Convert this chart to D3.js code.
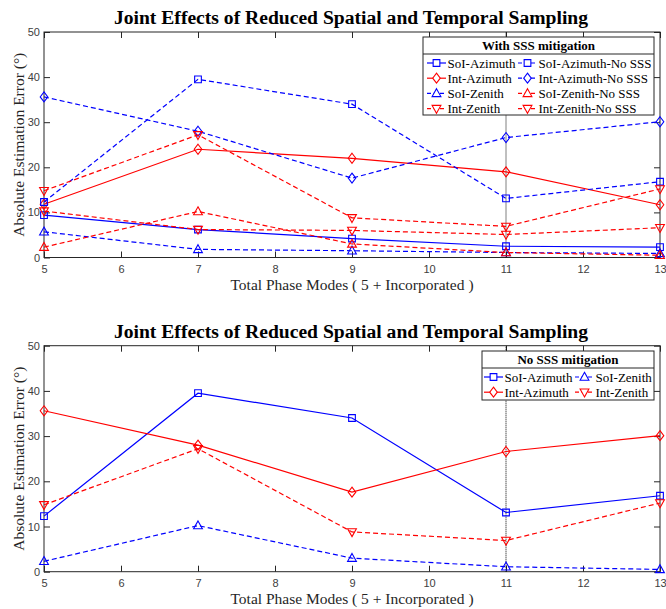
<!DOCTYPE html>
<html>
<head>
<meta charset="utf-8">
<script src="https://cdn.jsdelivr.net/npm/d3@7"></script>
<style>
  body { margin: 0; background: #fff; }
  .tick text { font-family: "Liberation Sans", Arial, sans-serif; font-size: 11px; fill: #404040; }
  .serif { font-family: "Liberation Serif", "Times New Roman", serif; }
</style>
</head>
<body>
<svg id="chart" width="666" height="609"></svg>
<script>
// x categories and tick labels
const phaseModes = [5, 7, 9, 11, 13];
const xTicks = [5, 6, 7, 8, 9, 10, 11, 12, 13];
const yTicks = [0, 10, 20, 30, 40, 50];

// with SSS mitigation
const soiAzimuth = [9.4, 6.2, 4.2, 2.5, 2.3];
const intAzimuth = [11.8, 24.0, 22.0, 19.0, 11.7];
const soiZenith = [5.7, 1.8, 1.5, 1.1, 0.9];
const intZenith = [10.3, 6.2, 6.0, 5.1, 6.6];

// no SSS mitigation
const soiAzimuthNoSSS = [12.3, 39.5, 34.0, 13.1, 16.8];
const intAzimuthNoSSS = [35.6, 28.0, 17.6, 26.6, 30.1];
const soiZenithNoSSS = [2.3, 10.2, 3.0, 1.1, 0.5];
const intZenithNoSSS = [14.8, 27.2, 8.8, 6.9, 15.2];

const BLUE = '#0000ff', RED = '#ff0000';
const DASH = '5,3';

const svg = d3.select('#chart');
svg.append('rect').attr('width', 666).attr('height', 609).attr('fill', '#fff');

const plotLeft = 44, plotRight = 660;
const x = d3.scaleLinear().domain([5, 13]).range([plotLeft, plotRight]);

function markerPath(type) {
    switch (type) {
        case 'square':
            return d3.symbol(d3.symbolSquare, 45)();
        case 'diamond':
            return 'M0,-5L3.8,0L0,5L-3.8,0Z';
        case 'up':
            return 'M0,-4.7L4.4,3.2L-4.4,3.2Z';
        case 'down':
            return 'M0,4.7L4.4,-3.2L-4.4,-3.2Z';
        default:
            return '';
    }
}

function drawPanel(cfg) {
    const y = d3.scaleLinear().domain([0, 50]).range([cfg.bottom, cfg.top]);
    const g = svg.append('g');

    //title
    svg.append('text').attr('class', 'serif')
        .attr('x', 351).attr('y', cfg.top - 8)
        .attr('text-anchor', 'middle')
        .attr('font-size', 19.6).attr('font-weight', 'bold').attr('fill', '#000')
        .text('Joint Effects of Reduced Spatial and Temporal Sampling');

    //axes with inward ticks
    g.append('g').attr('transform', `translate(0,${cfg.bottom})`)
        .call(d3.axisBottom(x).tickValues(xTicks).tickSize(-6).tickPadding(8).tickSizeOuter(0))
        .call(a => a.select('.domain').remove());
    g.append('g').attr('transform', `translate(${plotLeft},0)`)
        .call(d3.axisLeft(y).tickValues(yTicks).tickSize(-6).tickPadding(4).tickSizeOuter(0))
        .call(a => a.select('.domain').remove());
    g.append('g').attr('transform', `translate(0,${cfg.top})`)
        .call(d3.axisTop(x).tickValues(xTicks).tickSize(-6).tickFormat('').tickSizeOuter(0))
        .call(a => a.select('.domain').remove());
    g.append('g').attr('transform', `translate(${plotRight},0)`)
        .call(d3.axisRight(y).tickValues(yTicks).tickSize(-6).tickFormat('').tickSizeOuter(0))
        .call(a => a.select('.domain').remove());
    g.selectAll('.tick line').attr('stroke', '#262626');
    g.append('rect')
        .attr('x', plotLeft).attr('y', cfg.top)
        .attr('width', plotRight - plotLeft).attr('height', cfg.bottom - cfg.top)
        .attr('fill', 'none').attr('stroke', '#262626').attr('stroke-width', 1);

    //dotted marker line at 11 modes
    g.append('line')
        .attr('x1', x(11)).attr('x2', x(11))
        .attr('y1', y(0)).attr('y2', y(50))
        .attr('stroke', '#000').attr('stroke-width', 1).attr('stroke-dasharray', '1,1');

    //axis labels
    svg.append('text').attr('class', 'serif')
        .attr('x', 352).attr('y', cfg.bottom + 32)
        .attr('text-anchor', 'middle').attr('font-size', 15.5).attr('fill', '#262626')
        .text('Total Phase Modes ( 5 + Incorporated )');
    svg.append('text').attr('class', 'serif')
        .attr('transform', `translate(24,${(cfg.top + cfg.bottom) / 2}) rotate(-90)`)
        .attr('text-anchor', 'middle').attr('font-size', 15.5).attr('fill', '#262626')
        .text('Absolute Estimation Error (°)');

    //series
    const line = d3.line().x(d => x(d.x)).y(d => y(d.y));
    cfg.series.forEach(s => {
        const pts = phaseModes.map((m, i) => ({x: m, y: s.values[i]}));
        g.append('path')
            .attr('d', line(pts))
            .attr('fill', 'none')
            .attr('stroke', s.color)
            .attr('stroke-width', 1.2)
            .attr('stroke-dasharray', s.dashed ? DASH : null);
        g.selectAll(null).data(pts).enter().append('path')
            .attr('d', markerPath(s.marker))
            .attr('transform', d => `translate(${x(d.x)},${y(d.y)})`)
            .attr('fill', 'none')
            .attr('stroke', s.color)
            .attr('stroke-width', 1.1);
    });

    //legend
    const lg = cfg.legend;
    const leg = svg.append('g');
    leg.append('rect')
        .attr('x', lg.x).attr('y', lg.y).attr('width', lg.w).attr('height', lg.h)
        .attr('fill', '#fff').attr('stroke', '#262626').attr('stroke-width', 1);
    leg.append('line')
        .attr('x1', lg.x).attr('x2', lg.x + lg.w)
        .attr('y1', lg.y + 17).attr('y2', lg.y + 17)
        .attr('stroke', '#262626').attr('stroke-width', 1);
    leg.append('text').attr('class', 'serif')
        .attr('x', lg.x + lg.w / 2).attr('y', lg.y + 13)
        .attr('text-anchor', 'middle').attr('font-size', 13).attr('font-weight', 'bold').attr('fill', '#000')
        .text(lg.title);
    lg.columns.forEach((col, ci) => {
        col.forEach((s, ri) => {
            const lx = lg.x + lg.colX[ci];
            const ly = lg.y + 26 + ri * 15.2;
            leg.append('line')
                .attr('x1', lx).attr('x2', lx + 19)
                .attr('y1', ly).attr('y2', ly)
                .attr('stroke', s.color).attr('stroke-width', 1.2)
                .attr('stroke-dasharray', s.dashed ? '4,2.5' : null);
            leg.append('path')
                .attr('d', markerPath(s.marker))
                .attr('transform', `translate(${lx + 9.5},${ly})`)
                .attr('fill', '#fff').attr('stroke', s.color).attr('stroke-width', 1.1);
            leg.append('text').attr('class', 'serif')
                .attr('x', lx + 20.5).attr('y', ly + 4.5)
                .attr('font-size', 13).attr('fill', '#000')
                .text(s.name);
        });
    });
}

const topSeries = {
    soiAz: {name: 'SoI-Azimuth', values: soiAzimuth, color: BLUE, dashed: false, marker: 'square'},
    intAz: {name: 'Int-Azimuth', values: intAzimuth, color: RED, dashed: false, marker: 'diamond'},
    soiZen: {name: 'SoI-Zenith', values: soiZenith, color: BLUE, dashed: true, marker: 'up'},
    intZen: {name: 'Int-Zenith', values: intZenith, color: RED, dashed: true, marker: 'down'},
    soiAzNo: {name: 'SoI-Azimuth-No SSS', values: soiAzimuthNoSSS, color: BLUE, dashed: true, marker: 'square'},
    intAzNo: {name: 'Int-Azimuth-No SSS', values: intAzimuthNoSSS, color: BLUE, dashed: true, marker: 'diamond'},
    soiZenNo: {name: 'SoI-Zenith-No SSS', values: soiZenithNoSSS, color: RED, dashed: true, marker: 'up'},
    intZenNo: {name: 'Int-Zenith-No SSS', values: intZenithNoSSS, color: RED, dashed: true, marker: 'down'},
};

const bottomSeries = {
    soiAz: {name: 'SoI-Azimuth', values: soiAzimuthNoSSS, color: BLUE, dashed: false, marker: 'square'},
    intAz: {name: 'Int-Azimuth', values: intAzimuthNoSSS, color: RED, dashed: false, marker: 'diamond'},
    soiZen: {name: 'SoI-Zenith', values: soiZenithNoSSS, color: BLUE, dashed: true, marker: 'up'},
    intZen: {name: 'Int-Zenith', values: intZenithNoSSS, color: RED, dashed: true, marker: 'down'},
};

drawPanel({
    top: 32, bottom: 257.5,
    series: Object.values(topSeries),
    legend: {
        x: 423, y: 37, w: 231, h: 78, title: 'With SSS mitigation', colX: [4, 95],
        columns: [
            [topSeries.soiAz, topSeries.intAz, topSeries.soiZen, topSeries.intZen],
            [topSeries.soiAzNo, topSeries.intAzNo, topSeries.soiZenNo, topSeries.intZenNo],
        ],
    },
});

drawPanel({
    top: 345.7, bottom: 571.7,
    series: Object.values(bottomSeries),
    legend: {
        x: 482, y: 351, w: 172, h: 49, title: 'No SSS mitigation', colX: [2, 93],
        columns: [
            [bottomSeries.soiAz, bottomSeries.intAz],
            [bottomSeries.soiZen, bottomSeries.intZen],
        ],
    },
});
</script>
</body>
</html>
